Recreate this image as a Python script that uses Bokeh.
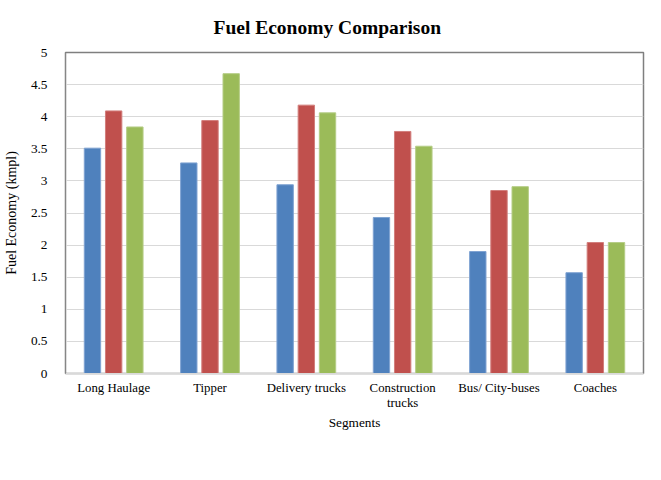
from bokeh.plotting import figure
from bokeh.models import FactorRange, Range1d, FixedTicker, Legend, LegendItem, ColumnDataSource
from bokeh.transform import dodge
from bokeh.embed import file_html
from bokeh.resources import INLINE

segments = ["Long Haulage", "Tipper", "Delivery trucks", "Construction\ntrucks", "Bus/ City-buses", "Coaches"]
india = [3.51, 3.28, 2.94, 2.43, 1.90, 1.57]
usa = [4.09, 3.94, 4.18, 3.77, 2.85, 2.04]
eu = [3.84, 4.67, 4.06, 3.54, 2.91, 2.04]
series_names = ["India", "USA", "EU"]
y_ticks = [0, 0.5, 1, 1.5, 2, 2.5, 3, 3.5, 4, 4.5, 5]
y_tick_labels = ["0", "0.5", "1", "1.5", "2", "2.5", "3", "3.5", "4", "4.5", "5"]

colors = ["#4F81BD", "#C0504D", "#9BBB59"]
edges = ["#7FA3D2", "#D27E7C", "#B5CD86"]
FONT = "Liberation Serif"

src = ColumnDataSource(dict(seg=segments, India=india, USA=usa, EU=eu))

p = figure(frame_width=578, frame_height=321, output_backend="svg", toolbar_location=None,
           x_range=FactorRange(*segments, range_padding=0), y_range=Range1d(0, 5),
           min_border_left=58, min_border_right=9, min_border_top=51, min_border_bottom=30)

p.title.text = "Fuel Economy  Comparison"
p.title.align = "left"
p.title.text_font = FONT
p.title.text_font_size = "19.5px"
p.title.text_font_style = "bold"
p.title.text_color = "#000000"
p.title.standoff = 29
p.title.offset = 148

renderers = []
offsets = [-0.22, 0.0, 0.22]
for name, off, c, e in zip(series_names, offsets, colors, edges):
    r = p.vbar(x=dodge("seg", off, range=p.x_range), top=name, width=0.17, source=src,
               fill_color=c, line_color=e, line_width=1)
    renderers.append(r)

p.xgrid.grid_line_color = None
p.ygrid.grid_line_color = "#D9D9D9"
p.ygrid.ticker = FixedTicker(ticks=y_ticks)
p.outline_line_color = "#7F7F7F"
p.outline_line_width = 1.5

p.yaxis.ticker = FixedTicker(ticks=y_ticks)
p.yaxis.major_label_overrides = {t: l for t, l in zip(y_ticks, y_tick_labels)}
p.yaxis.axis_line_color = "#868686"
p.yaxis.major_tick_line_color = None
p.yaxis.minor_tick_line_color = None
p.yaxis.major_label_standoff = 12
p.yaxis.axis_label = "Fuel Economy (kmpl)"
p.yaxis.axis_label_standoff = 9
p.yaxis.axis_label_text_font = FONT
p.yaxis.axis_label_text_font_size = "14px"
p.yaxis.axis_label_text_font_style = "normal"
p.yaxis.axis_label_text_color = "#000000"
p.yaxis.major_label_text_font = FONT
p.yaxis.major_label_text_font_size = "13.3px"
p.yaxis.major_label_text_color = "#000000"

p.xaxis.axis_line_color = "#D9D9D9"
p.xaxis.major_tick_line_color = None
p.xaxis.minor_tick_line_color = None
p.xaxis.major_label_standoff = 1
p.xaxis.major_label_text_font = FONT
p.xaxis.major_label_text_font_size = "12.8px"
p.xaxis.major_label_text_line_height = 1.1
p.xaxis.major_label_text_color = "#000000"
p.xaxis.axis_label = "Segments"
p.xaxis.axis_label_standoff = 2
p.xaxis.axis_label_text_font = FONT
p.xaxis.axis_label_text_font_size = "13.3px"
p.xaxis.axis_label_text_font_style = "normal"
p.xaxis.axis_label_text_color = "#000000"

legend = Legend(items=[LegendItem(label=n, renderers=[r]) for n, r in zip(series_names, renderers)],
                orientation="horizontal", location="center")
legend.label_text_font = FONT
legend.label_text_font_size = "12.7px"
legend.label_text_color = "#000000"
legend.glyph_width = 7
legend.glyph_height = 7
legend.label_standoff = 3
legend.spacing = 8
legend.padding = 0
legend.margin = 0
legend.border_line_color = None
legend.background_fill_alpha = 0
p.add_layout(legend, "below")

open("out.html", "w").write(file_html(p, INLINE))
